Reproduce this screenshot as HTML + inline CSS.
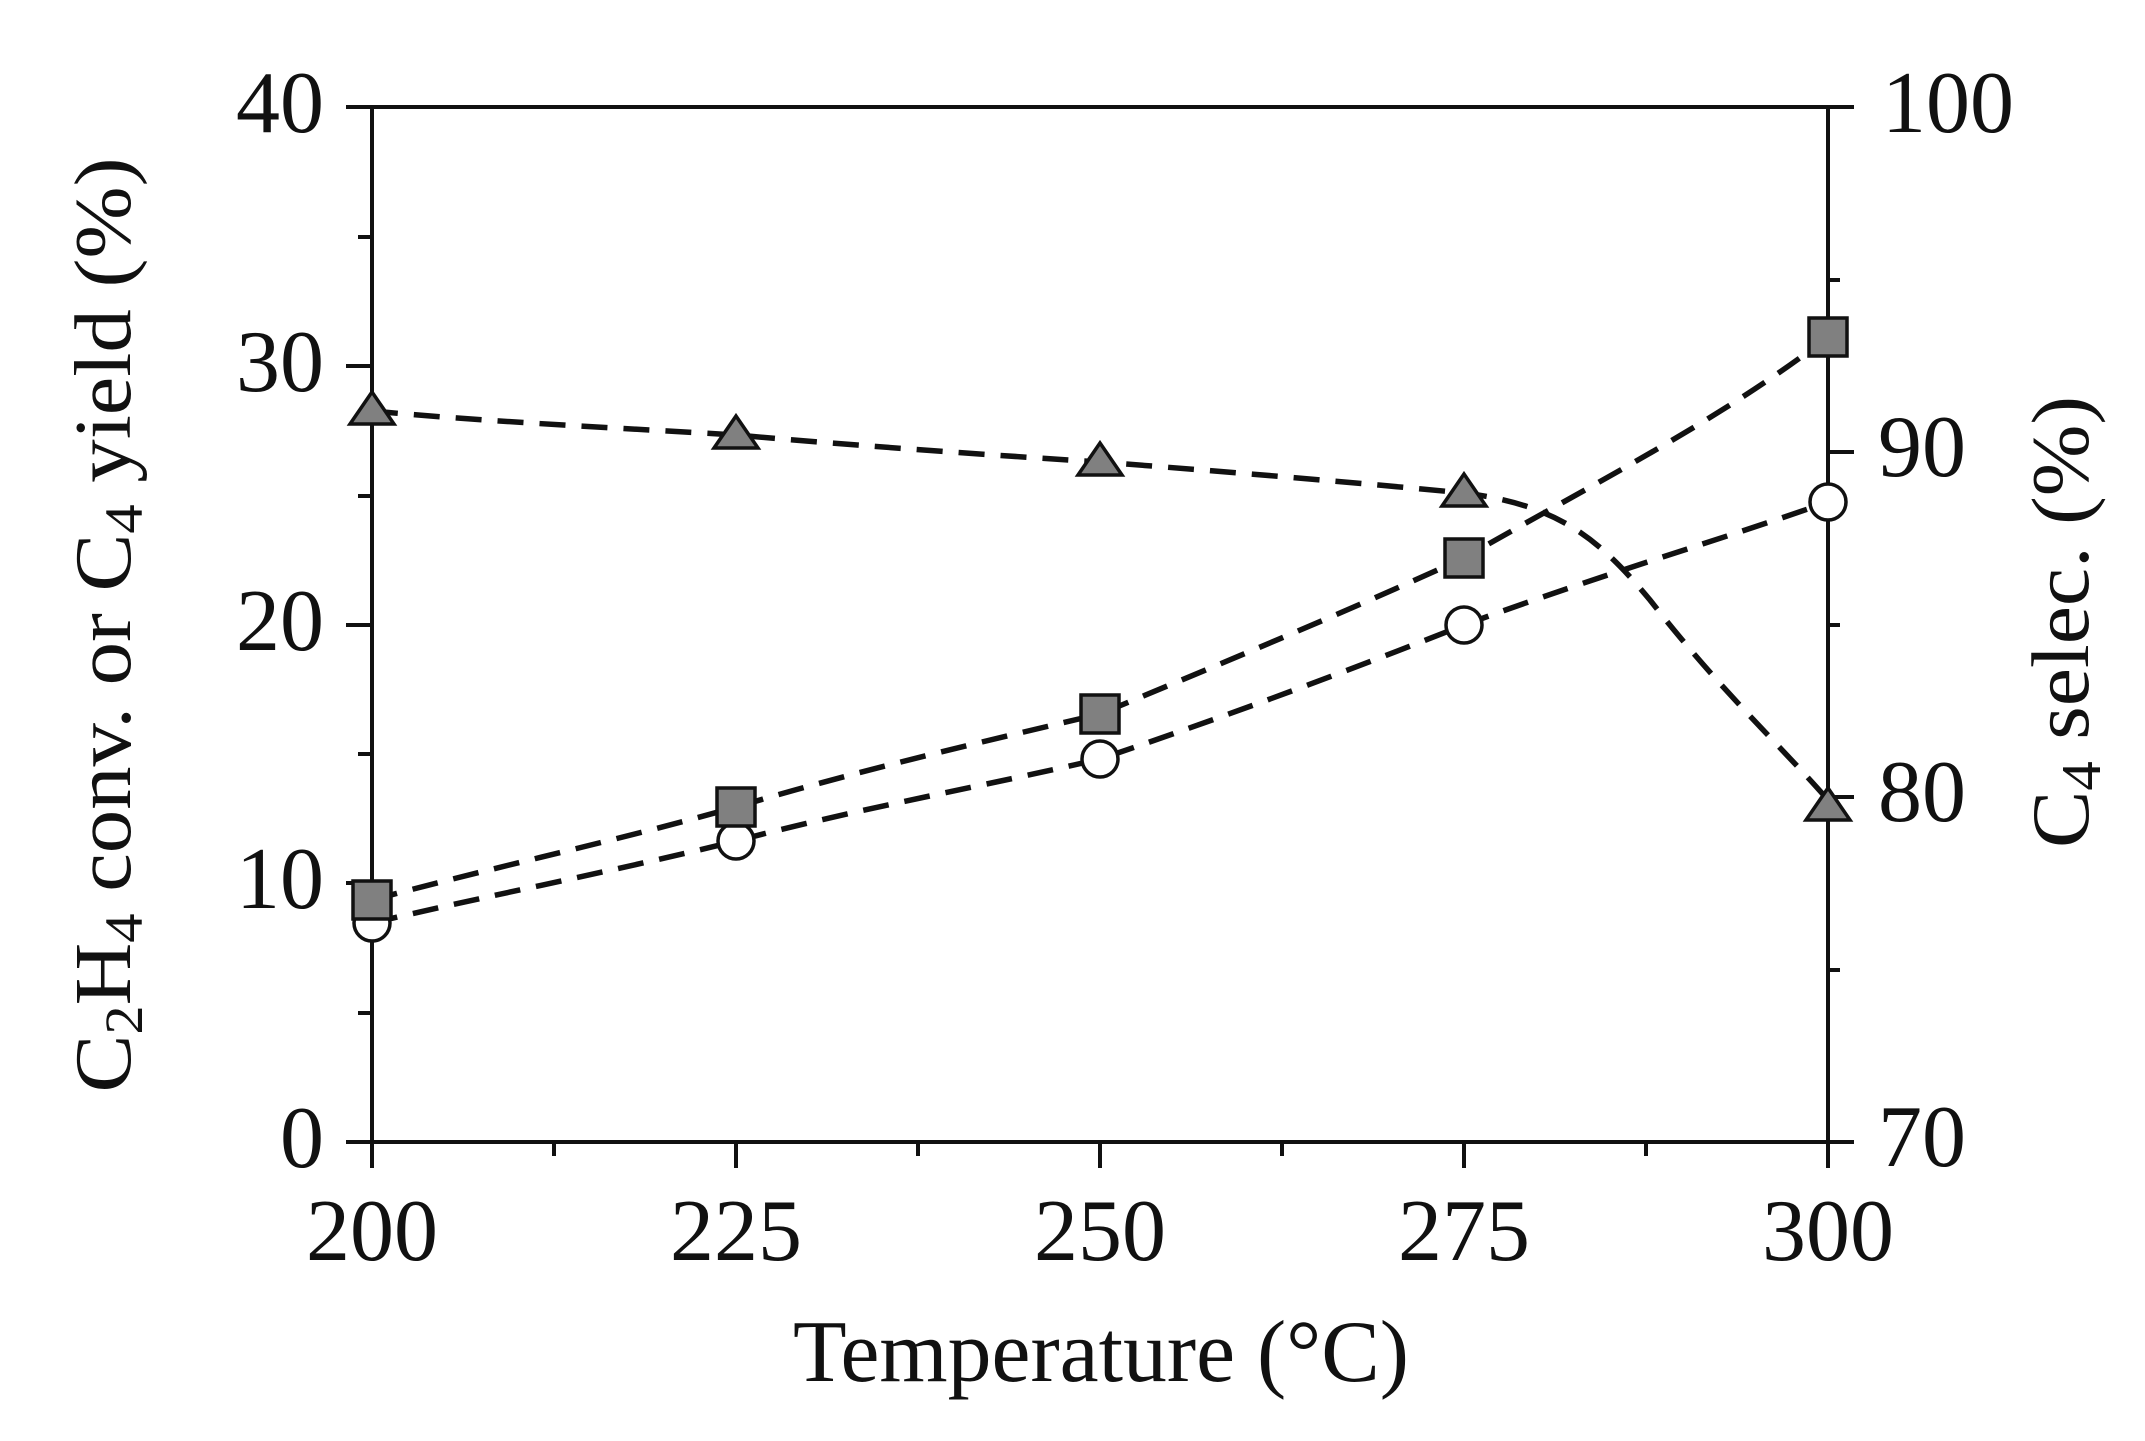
<!DOCTYPE html>
<html><head><meta charset="utf-8"><style>html,body{margin:0;padding:0;background:#fff}svg{display:block}</style></head>
<body>
<svg width="2145" height="1441" viewBox="0 0 2145 1441" xmlns="http://www.w3.org/2000/svg" font-family="Liberation Serif, serif" fill="#111">
<g stroke="#111" stroke-width="4" fill="none">
<line x1="372" y1="107" x2="1828" y2="107"/>
<line x1="372" y1="107" x2="372" y2="1168"/>
<line x1="1828" y1="107" x2="1828" y2="1168"/>
<line x1="346" y1="1142" x2="1854" y2="1142"/>
<line x1="346" y1="107" x2="372" y2="107"/>
<line x1="346" y1="366" x2="372" y2="366"/>
<line x1="346" y1="625" x2="372" y2="625"/>
<line x1="346" y1="883" x2="372" y2="883"/>
<line x1="358" y1="237" x2="372" y2="237"/>
<line x1="358" y1="496" x2="372" y2="496"/>
<line x1="358" y1="754" x2="372" y2="754"/>
<line x1="358" y1="1013" x2="372" y2="1013"/>
<line x1="1828" y1="107" x2="1854" y2="107"/>
<line x1="1828" y1="452" x2="1854" y2="452"/>
<line x1="1828" y1="797" x2="1854" y2="797"/>
<line x1="1828" y1="280" x2="1840" y2="280"/>
<line x1="1828" y1="625" x2="1840" y2="625"/>
<line x1="1828" y1="970" x2="1840" y2="970"/>
<line x1="736" y1="1142" x2="736" y2="1168"/>
<line x1="1100" y1="1142" x2="1100" y2="1168"/>
<line x1="1464" y1="1142" x2="1464" y2="1168"/>
<line x1="554" y1="1142" x2="554" y2="1156"/>
<line x1="918" y1="1142" x2="918" y2="1156"/>
<line x1="1282" y1="1142" x2="1282" y2="1156"/>
<line x1="1646" y1="1142" x2="1646" y2="1156"/>
</g>
<g stroke="#111" stroke-width="5.5" fill="none" stroke-dasharray="26 16">
<path d="M372 900 C 490 868, 620 840, 736 807 C 860 770, 990 740, 1100 714 C 1230 660, 1350 610, 1464 558 C 1600 480, 1720 420, 1828 337"/>
<path d="M372 923 C 490 895, 620 870, 736 841 C 860 808, 990 785, 1100 759 C 1230 715, 1350 670, 1464 625 C 1600 575, 1720 540, 1828 502"/>
<path d="M372 411 C 490 422, 620 428, 736 435 C 860 446, 990 455, 1100 462 C 1230 472, 1350 482, 1464 493 C 1560 505, 1600 540, 1650 600 C 1720 690, 1780 745, 1828 800"/>
</g>
<g stroke="#111" stroke-width="3.5">
<g fill="#fff">
<circle cx="372" cy="923" r="18"/><circle cx="736" cy="841" r="18"/><circle cx="1100" cy="759" r="18"/><circle cx="1464" cy="625" r="18"/><circle cx="1828" cy="502" r="18"/>
</g>
<g fill="#808080">
<rect x="353" y="881" width="38" height="38"/><rect x="717" y="788" width="38" height="38"/><rect x="1081" y="695" width="38" height="38"/><rect x="1445" y="539" width="38" height="38"/><rect x="1809" y="318" width="38" height="38"/>
<polygon points="372,392 394,424 350,424"/><polygon points="736,416 758,448 714,448"/><polygon points="1100,443 1122,475 1078,475"/><polygon points="1464,474 1486,506 1442,506"/><polygon points="1828,788 1850,820 1806,820"/>
</g>
</g>
<g font-size="88" stroke="none">
<g text-anchor="end">
<text x="324" y="132">40</text><text x="324" y="391">30</text><text x="324" y="650">20</text><text x="324" y="908">10</text><text x="324" y="1167">0</text>
</g>
<g text-anchor="start">
<text x="1882" y="132">100</text><text x="1878" y="476">90</text><text x="1878" y="821">80</text><text x="1878" y="1166">70</text>
</g>
<g text-anchor="middle">
<text x="372" y="1260">200</text><text x="736" y="1260">225</text><text x="1100" y="1260">250</text><text x="1464" y="1260">275</text><text x="1828" y="1260">300</text>
<text x="1101" y="1381" textLength="616" lengthAdjust="spacingAndGlyphs">Temperature (°C)</text>
</g>
</g>
<text transform="translate(130,625) rotate(-90)" text-anchor="middle" font-size="80" textLength="935" lengthAdjust="spacingAndGlyphs">C<tspan font-size="54" dy="12">2</tspan><tspan dy="-12">H</tspan><tspan font-size="54" dy="12">4</tspan><tspan dy="-12"> conv. or C</tspan><tspan font-size="54" dy="12">4</tspan><tspan dy="-12"> yield (%)</tspan></text>
<text transform="translate(2088,622) rotate(-90)" text-anchor="middle" font-size="82" textLength="452" lengthAdjust="spacingAndGlyphs">C<tspan font-size="56" dy="12">4</tspan><tspan dy="-12"> selec. (%)</tspan></text>
</svg>
</body></html>
